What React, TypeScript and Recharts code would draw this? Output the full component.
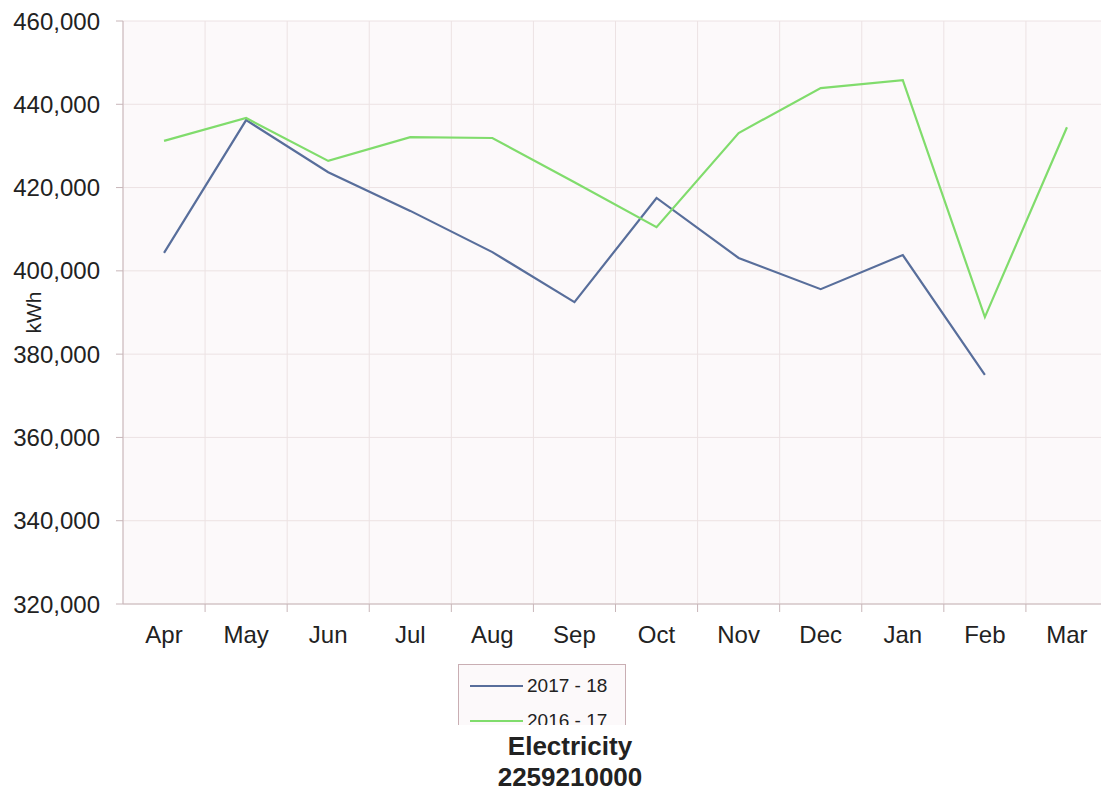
import { CartesianGrid, Line, LineChart, XAxis, YAxis } from 'recharts';

const months = ['Apr', 'May', 'Jun', 'Jul', 'Aug', 'Sep', 'Oct', 'Nov', 'Dec', 'Jan', 'Feb', 'Mar'];
const fy2017 = [404300, 436200, 423700, 414400, 404500, 392500, 417500, 403100, 395600, 403800, 375000, null];
const fy2016 = [431200, 436700, 426400, 432100, 431900, 421300, 410500, 433100, 443900, 445800, 388900, 434500];
const yTicks = [320000, 340000, 360000, 380000, 400000, 420000, 440000, 460000];

const series = [
    { key: 'fy2017', name: '2017 - 18', color: '#586e9b' },
    { key: 'fy2016', name: '2016 - 17', color: '#80dc6c' },
];

const data = months.map((m, i) => ({ month: m, fy2017: fy2017[i], fy2016: fy2016[i] }));

// the plot runs a few px past the right edge of the page in the original
const W = 1108;
const PAGE_W = 1101;
const H = 794;
const M = { top: 21, right: 0, left: 0, bottom: 150 };
const Y_W = 123;
const plotW = W - M.left - M.right - Y_W;
const bw = plotW / months.length;
const axisColor = '#c8b6b9';
const font = '"Liberation Sans", Arial, sans-serif';

function MonthTick({ x, y, payload, index }: any) {
    const axisY = 604;
    const left = x - bw / 2;
    return (
        <g>
            {index > 0 && <line x1={left} y1={axisY} x2={left} y2={axisY + 8} stroke={axisColor} />}
            <text x={x} y={y} dy="0.71em" textAnchor="middle" fill="#222" fontSize={24} fontFamily={font}>
                {payload.value}
            </text>
        </g>
    );
}

export default function App() {
    return (
        <div style={{ position: 'absolute', left: 0, top: 0, width: PAGE_W, height: H, overflow: 'hidden', background: '#fff', fontFamily: font }}>
            <LineChart width={W} height={H} data={data} margin={M}>
                <CartesianGrid
                    fill="#fcf9fa"
                    stroke="#ece2e3"
                    verticalCoordinatesGenerator={({ offset }: any) =>
                        months.map((_, i) => offset.left + i * (offset.width / months.length)).concat(offset.left + offset.width)
                    }
                />
                <XAxis
                    dataKey="month"
                    height={40}
                    stroke={axisColor}
                    tickLine={false}
                    tickMargin={16}
                    padding={{ left: bw / 2, right: bw / 2 }}
                    tick={<MonthTick />}
                    interval={0}
                />
                <YAxis
                    width={Y_W}
                    domain={[320000, 460000]}
                    ticks={yTicks}
                    stroke={axisColor}
                    tickSize={7}
                    tickMargin={16}
                    tick={{ fill: '#222', fontSize: 24, fontFamily: font }}
                    tickFormatter={(v: number) => v.toLocaleString('en-US')}
                    label={{ value: 'kWh', angle: -90, position: 'center', dx: -28, fill: '#222', fontSize: 21, fontFamily: font }}
                />
                {series.map((s) => (
                    <Line
                        key={s.key}
                        dataKey={s.key}
                        name={s.name}
                        stroke={s.color}
                        strokeWidth={2.2}
                        dot={false}
                        activeDot={false}
                        type="linear"
                        isAnimationActive={false}
                    />
                ))}
            </LineChart>
            <div
                style={{
                    position: 'absolute',
                    left: 458,
                    top: 664,
                    width: 166,
                    height: 60,
                    border: '1px solid #c9aeb3',
                    borderBottom: 'none',
                    background: '#fcf9fa',
                    overflow: 'hidden',
                }}
            >
                {series.map((s, i) => (
                    <div key={s.key} style={{ position: 'absolute', left: 11, top: 9 + i * 35, display: 'flex', alignItems: 'center' }}>
                        <div style={{ width: 53, height: 2, background: s.color }} />
                        <span style={{ marginLeft: 4, fontSize: 19, color: '#222', lineHeight: '24px' }}>{s.name}</span>
                    </div>
                ))}
            </div>
            <div
                style={{
                    position: 'absolute',
                    left: 0,
                    top: 731,
                    width: 1140,
                    textAlign: 'center',
                    fontWeight: 'bold',
                    fontSize: 26,
                    lineHeight: '31px',
                    color: '#222',
                }}
            >
                <div>Electricity</div>
                <div>2259210000</div>
            </div>
        </div>
    );
}
